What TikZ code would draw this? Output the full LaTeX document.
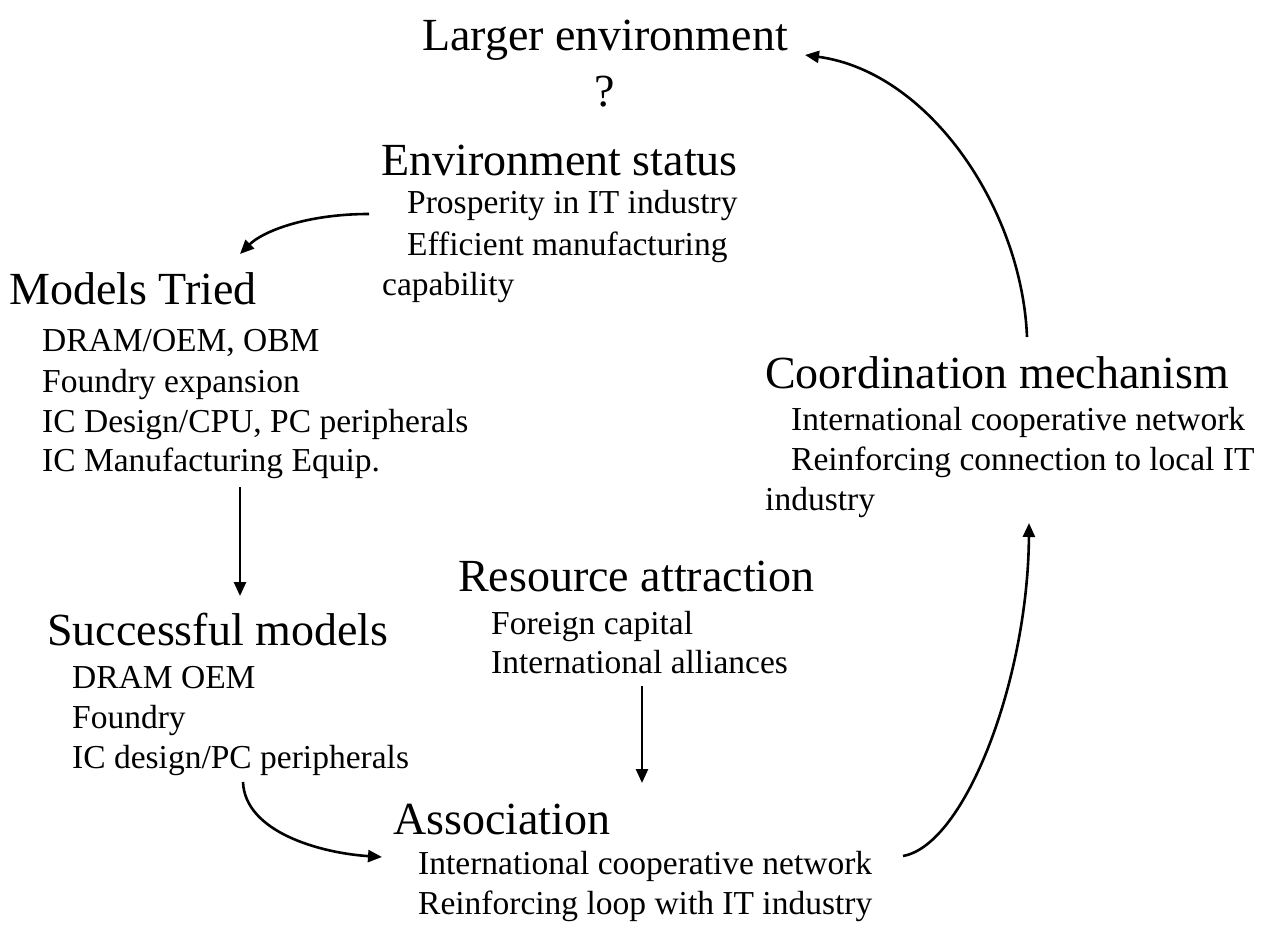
\documentclass[tikz,border=0pt]{standalone}
\usepackage{fontspec}
\setmainfont{Liberation Serif}
\usetikzlibrary{arrows.meta}
\begin{document}
\begin{tikzpicture}[x=1pt,y=-1pt,
  ttl/.style={inner sep=0pt,anchor=base west,font=\fontsize{46}{52}\selectfont},
  bdy/.style={inner sep=0pt,anchor=base west,font=\fontsize{33.5}{40}\selectfont},
  conn/.style={line width=2.6pt,-{Triangle[length=14pt,width=12pt]}}]
\useasboundingbox (0,0) rectangle (1269,925);
% Larger environment
\node[ttl,anchor=base] (le) at (605,51) {Larger environment};
\node[ttl,anchor=base] (lq) at (605,107) {?};
% Environment status
\node[ttl] (es) at (381,176) {Environment status};
\node[bdy] (es1) at (407,214) {Prosperity in IT industry};
\node[bdy] (es2) at (407,256) {Efficient manufacturing};
\node[bdy] (es3) at (382,296) {capability};
% Models Tried
\node[ttl] (mt) at (9,305) {Models Tried};
\node[bdy] (mt1) at (42,352) {DRAM/OEM, OBM};
\node[bdy] (mt2) at (42,392) {Foundry expansion};
\node[bdy] (mt3) at (42,432) {IC Design/CPU, PC peripherals};
\node[bdy] (mt4) at (42,471) {IC Manufacturing Equip.};
% Successful models
\node[ttl] (sm) at (47,645) {Successful models};
\node[bdy] (sm1) at (72,688) {DRAM OEM};
\node[bdy] (sm2) at (72,728) {Foundry};
\node[bdy] (sm3) at (72,768) {IC design/PC peripherals};
% Resource attraction
\node[ttl] (ra) at (458,591) {Resource attraction};
\node[bdy] (ra1) at (491,634) {Foreign capital};
\node[bdy] (ra2) at (491,673) {International alliances};
% Association
\node[ttl] (as) at (393,834) {Association};
\node[bdy] (as1) at (418,874) {International cooperative network};
\node[bdy] (as2) at (418,914) {Reinforcing loop with IT industry};
% Coordination mechanism
\node[ttl] (cm) at (765,388) {Coordination mechanism};
\node[bdy] (cm1) at (791,430) {International cooperative network};
\node[bdy] (cm2) at (791,470) {Reinforcing connection to local IT};
\node[bdy] (cm3) at (765,510) {industry};
% connector ends
\coordinate (a1s) at (369,214);
\coordinate (a1e) at (240,254);
\coordinate (a2s) at (240,487);
\coordinate (a2e) at (240,596);
\coordinate (a3s) at (243,782);
\coordinate (a3e) at (382,857);
\coordinate (a4s) at (642,686);
\coordinate (a4e) at (642,783);
\coordinate (a5s) at (903,856);
\coordinate (a5e) at (1029,523);
\coordinate (a6s) at (1027,337);
\coordinate (a6e) at (805,55);
\draw[conn] (a1s) .. controls (305,214) and (262,232) .. (a1e);
\draw[conn] (a2s) -- (a2e);
\draw[conn] (a3s) .. controls (245,832) and (320,853) .. (a3e);
\draw[conn] (a4s) -- (a4e);
\draw[conn] (a5s) .. controls (965,845) and (1028,680) .. (a5e);
\draw[conn] (a6s) .. controls (1022,210) and (930,72) .. (a6e);
\end{tikzpicture}
\end{document}
